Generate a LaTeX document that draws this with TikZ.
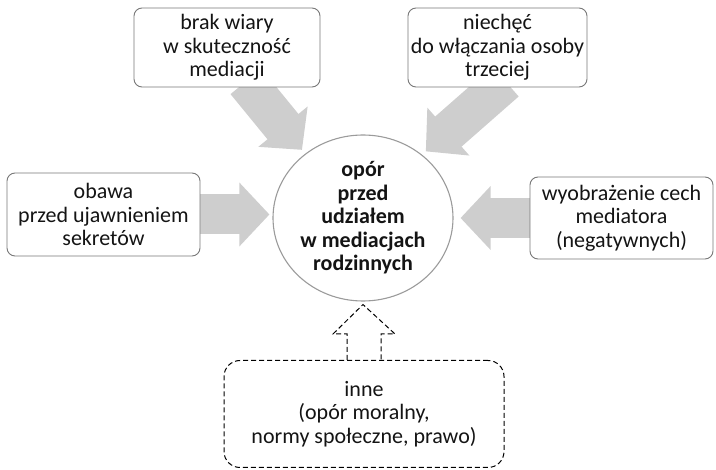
\documentclass[tikz,border=0pt]{standalone}
\usepackage{fontspec}
\setmainfont{Carlito}
\usetikzlibrary{
  arrows.meta,
  shapes.geometric,
  backgrounds,
  calc
}
\definecolor{arrowgray}{RGB}{206,206,206}
\definecolor{boxgray}{RGB}{120,120,120}
\definecolor{ringgray}{RGB}{155,155,155}
\tikzset{
  txt/.style={font=\fontsize{22}{23.5}\selectfont, align=center, text=black!92},
  cause/.style={
    txt, draw=boxgray, line width=0.9pt, rounded corners=8pt,
    fill=white, inner sep=0pt
  },
  other/.style={
    txt, draw=black, line width=1pt, dash pattern=on 5pt off 3pt,
    rounded corners=16pt, inner sep=0pt
  },
  core/.style={
    txt, font=\bfseries\fontsize{22}{23.5}\selectfont, ellipse,
    draw=ringgray, line width=1.1pt, fill=white,
    minimum width=180pt, minimum height=166pt, inner sep=0pt
  },
  block/.style={line width=40pt, draw=arrowgray, -{Triangle[length=30pt, width=62pt]}},
  dashblock/.style={draw=black, line width=1pt, dash pattern=on 5pt off 3pt},
}

\begin{document}
\begin{tikzpicture}[x=1pt, y=-1pt]
\useasboundingbox (0,0) rectangle (716,470);

% central ellipse
\node[core] (opor) at (363,218) {opór\\przed\\udziałem\\w mediacjach\\rodzinnych};

% causes
\node[cause, minimum width=186pt, minimum height=79pt] (brak) at (227,47.5)
  {brak wiary\\w skuteczność\\mediacji};
\node[cause, minimum width=179pt, minimum height=79pt] (niechec) at (497.5,47.5)
  {niechęć\\do włączania osoby\\trzeciej};
\node[cause, minimum width=193pt, minimum height=83pt] (obawa) at (103.5,214.5)
  {obawa\\przed ujawnieniem\\sekretów};
\node[cause, minimum width=183pt, minimum height=82pt] (wyobr) at (621.5,218)
  {wyobrażenie cech\\mediatora\\(negatywnych)};
\node[other, minimum width=280pt, minimum height=107pt] (inne) at (364,414)
  {inne\\(opór moralny,\\normy społeczne, prawo)};

% grey block arrows behind the boxes
\begin{scope}[on background layer]
  \draw[block, shorten >=3pt] (obawa.east) -- (obawa.east -| opor.west);
  \draw[block, shorten >=7pt] (wyobr.west) -- (wyobr.west -| opor.east);
  \draw[block, shorten >=5pt] ($(brak.south)+(19,-6)$) -- (opor.132);
  \draw[block, shorten >=5pt] ($(niechec.south)+(8,-6)$) -- (opor.47);
\end{scope}

% dashed arrow from below
\draw[dashblock] ($(inne.north)+(-17,0)$) -- ++(0,-26) -- ++(-14,0)
  -- ($(opor.south)+(0,3)$) -- ($(inne.north)+(31,-26)$) -- ++(-14,0)
  -- ($(inne.north)+(17,0)$);

\end{tikzpicture}
\end{document}
